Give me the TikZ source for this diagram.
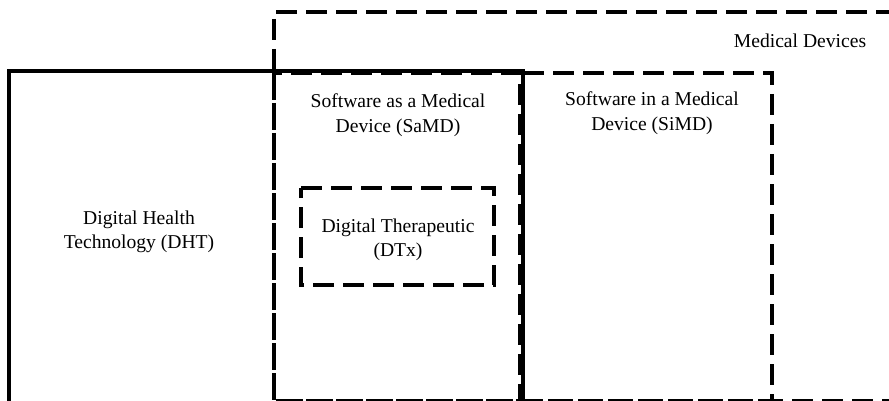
\documentclass[tikz,border=0pt]{standalone}
\usepackage{fontspec}
\setmainfont{Liberation Serif}
\begin{document}
\begin{tikzpicture}[x=1pt, y=-1pt,
  edge/.style={draw, line width=3.1pt},
  dsh/.style={edge, dash pattern=on 21pt off 9pt},
  lbl/.style={font=\fontsize{19.6}{24.5}\selectfont, align=center, inner sep=0pt}]
\useasboundingbox (0,0) rectangle (889,401);
\clip (0,0) rectangle (889,401);
% Digital Health Technology (solid, open at the bottom)
\draw[edge] (9,410) -- (9,71) -- (523,71) -- (523,410);
% Medical Devices (open to the right)
\draw[dsh] (897,12) -- (274,12) -- (274,400.8) -- (897,400.8);
% Software as a Medical Device
\draw[dsh] (274,73) -- (274,400.8) -- (520,400.8) -- (520,73) -- cycle;
% Software in a Medical Device
\draw[dsh] (523,73) -- (772,73) -- (772,400.8) -- (523,400.8);
\draw[dsh] (523,73) -- (523,400.8);
% Digital Therapeutic
\draw[dsh] (301,188) -- (494,188) -- (494,285) -- (301,285) -- cycle;
% labels
\node[lbl] (mdl) at (800,41) {Medical Devices};
\node[lbl] (samdl) at (398,115) {Software as a Medical\\Device (SaMD)};
\node[lbl] (simdl) at (652,113) {Software in a Medical\\Device (SiMD)};
\node[lbl] (dhtl) at (139,232) {Digital Health\\Technology (DHT)};
\node[lbl] (dtxl) at (398,240) {Digital Therapeutic\\(DTx)};
\end{tikzpicture}
\end{document}
